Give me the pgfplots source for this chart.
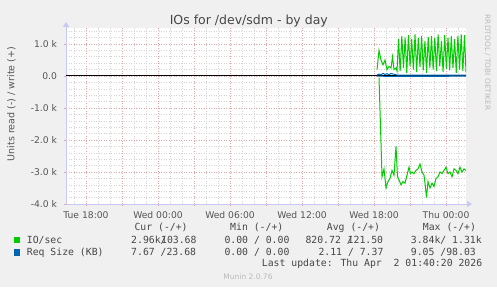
\documentclass[border=0pt]{standalone}
\usepackage{pgfplots}
\pgfplotsset{compat=1.18}
\usepackage{fontspec}
\setmainfont{DejaVu Sans}
\newfontfamily\monofont{DejaVu Sans Mono}
\usetikzlibrary{arrows.meta}
\definecolor{bggrey}{RGB}{240,240,240}
\definecolor{txt}{RGB}{70,70,70}
\definecolor{ticktxt}{RGB}{85,85,85}
\definecolor{faint}{RGB}{185,185,185}
\definecolor{axisblue}{RGB}{200,200,245}
\definecolor{majgrid}{RGB}{230,165,165}
\definecolor{mingrid}{RGB}{212,212,212}
\definecolor{iogreen}{RGB}{0,204,0}
\definecolor{reqblue}{RGB}{0,102,179}

\pgfplotstableread{
x y
24.417 -50
24.667 -3150
24.833 -2900
25.0 -3500
25.167 -3300
25.333 -3200
25.5 -2950
25.667 -3100
25.833 -2200
25.958 -3150
26.083 -3250
26.25 -3400
26.417 -3300
26.583 -3350
26.75 -3100
26.917 -2850
27.042 -3050
27.167 -3000
27.333 -3050
27.5 -2950
27.667 -2900
27.833 -2750
28.0 -3000
28.167 -3100
28.25 -3350
28.375 -3800
28.5 -3300
28.667 -3500
28.833 -3350
29.0 -3450
29.167 -3200
29.333 -3150
29.5 -3000
29.667 -3050
29.833 -2950
30.0 -2850
30.167 -3050
30.333 -3000
30.5 -3150
30.667 -2900
30.833 -2950
31.0 -3050
31.167 -2850
31.333 -3000
31.5 -2900
31.667 -2960
}\ioread

\pgfplotstableread{
x y
24.25 200
24.417 800
24.583 500
24.75 350
24.917 500
25.083 200
25.25 300
25.417 250
25.542 600
25.667 200
25.833 250
25.917 150
26.042 1150
26.179 150
26.317 1250
26.454 250
26.592 1200
26.729 100
26.867 1280
27.004 300
27.142 1150
27.279 200
27.417 1300
27.554 120
27.692 1200
27.829 280
27.967 1250
28.104 180
28.242 1100
28.379 100
28.517 1220
28.654 250
28.792 1250
28.929 200
29.067 1200
29.204 150
29.342 1300
29.479 300
29.617 1100
29.754 120
29.892 1280
30.029 220
30.167 1200
30.304 180
30.442 1250
30.579 250
30.717 1150
30.854 100
30.992 1250
31.129 200
31.267 1300
31.404 150
31.542 1280
31.667 104
}\iowrite

\pgfplotstableread{
x y
24.25 -5
25.0 -9
25.9 -9
28.0 -8
31.667 -7.7
}\reqread

\pgfplotstableread{
x y
24.25 30
24.417 60
24.583 40
24.75 80
24.917 50
25.083 70
25.25 40
25.417 80
25.583 60
25.75 50
25.917 30
26.5 28
27.5 25
28.5 30
29.5 26
30.5 28
31.667 24
}\reqwrite

\begin{document}
\begin{tikzpicture}[x=1bp,y=1bp]
\fill[bggrey] (0,0) rectangle (497,287);
\begin{axis}[
  at={(66bp,83bp)}, anchor=south west,
  width=400bp, height=176bp, scale only axis,
  xmin=-1.6667, xmax=31.6667, ymin=-4000, ymax=1500,
  axis background/.style={fill=white},
  axis lines=left,
  axis line style={draw=axisblue, line width=0.8bp, -{Triangle[length=5bp,width=6bp]}, shorten >=-6bp},
  xtick={0,3,...,30},
  xticklabels={Tue 18:00,,Wed 00:00,,Wed 06:00,,Wed 12:00,,Wed 18:00,,Thu 00:00},
  minor xtick={-1,0,...,31},
  ytick={-4000,-3000,...,1000},
  yticklabels={-4.0 k,-3.0 k,-2.0 k,-1.0 k,0.0,1.0 k},
  minor ytick={-3800,-3600,...,1400},
  grid=both,
  major grid style={draw=majgrid, dash pattern=on 1bp off 1.5bp, line width=0.6bp},
  minor grid style={draw=mingrid, dash pattern=on 1bp off 1.5bp, line width=0.6bp},
  tick align=outside,
  major tick length=2bp, minor tick length=0bp,
  tick style={draw=majgrid, line width=0.6bp},
  xticklabel style={font=\fontsize{9.2bp}{11bp}\selectfont, text=ticktxt, anchor=base, yshift=-12.5bp},
  yticklabel style={font=\fontsize{9.2bp}{11bp}\selectfont, text=ticktxt, anchor=east, xshift=-3.5bp},
  clip=true,
]
\addplot[black, line width=1bp] coordinates {(-1.6667,0) (31.6667,0)};
\addplot[iogreen, line width=1bp] table[x=x,y=y] {\ioread};
\addplot[iogreen, line width=1bp] table[x=x,y=y] {\iowrite};
\addplot[reqblue, line width=1bp] table[x=x,y=y] {\reqread};
\addplot[reqblue, line width=1bp] table[x=x,y=y] {\reqwrite};
\end{axis}
% title
\node[anchor=base, text=txt, font=\fontsize{12.5bp}{15bp}\selectfont, inner sep=0] at (248.8,262.7) {IOs for /dev/sdm - by day};
% y label
\node[rotate=90, text=ticktxt, font=\fontsize{9.5bp}{11bp}\selectfont, inner sep=0] at (11.5,183) {Units read (-) / write (+)};
% watermark
\node[rotate=-90, text=faint, font=\fontsize{7.4bp}{9bp}\selectfont, inner sep=0] at (487.5,224.5) {RRDTOOL / TOBI OETIKER};
% legend
\begin{scope}[every node/.style={inner sep=0, text=txt, font=\monofont\fontsize{9.8bp}{11bp}\selectfont}]
\node[anchor=base west] at (134.3,56.3) {Cur (-/+)};
\node[anchor=base west] at (230,56.3) {Min (-/+)};
\node[anchor=base west] at (326.7,56.3) {Avg (-/+)};
\node[anchor=base west] at (422.7,56.3) {Max (-/+)};
\fill[iogreen] (14,43.7) rectangle (20.3,50.2);
\node[anchor=base west] at (26.7,43.7) {IO/sec};
\node[anchor=base west] at (131,43.7) {2.96k/};
\node[anchor=base east] at (196.7,43.7) {103.68};
\node[anchor=base west] at (224.3,43.7) {0.00 / 0.00};
\node[anchor=base west] at (305.3,43.7) {820.72~/};
\node[anchor=base east] at (383.3,43.7) {121.50};
\node[anchor=base west] at (410.7,43.7) {3.84k/ 1.31k};
\fill[reqblue] (14,31.5) rectangle (20.3,38);
\node[anchor=base west] at (26.7,32) {Req Size (KB)};
\node[anchor=base west] at (131,32) {7.67 /23.68};
\node[anchor=base west] at (224.3,32) {0.00 / 0.00};
\node[anchor=base west] at (318.3,32) {2.11 / 7.37};
\node[anchor=base west] at (410.7,32) {9.05 /98.03};
\node[anchor=base west] at (261.7,20.3) {Last update: Thu Apr~~2 01:40:20 2026};
\end{scope}
\node[anchor=base, inner sep=0, text=faint, font=\fontsize{7.5bp}{9bp}\selectfont] at (248,8) {Munin 2.0.76};
\pgfresetboundingbox
\useasboundingbox (0,0) rectangle (497,287);
\end{tikzpicture}
\end{document}
